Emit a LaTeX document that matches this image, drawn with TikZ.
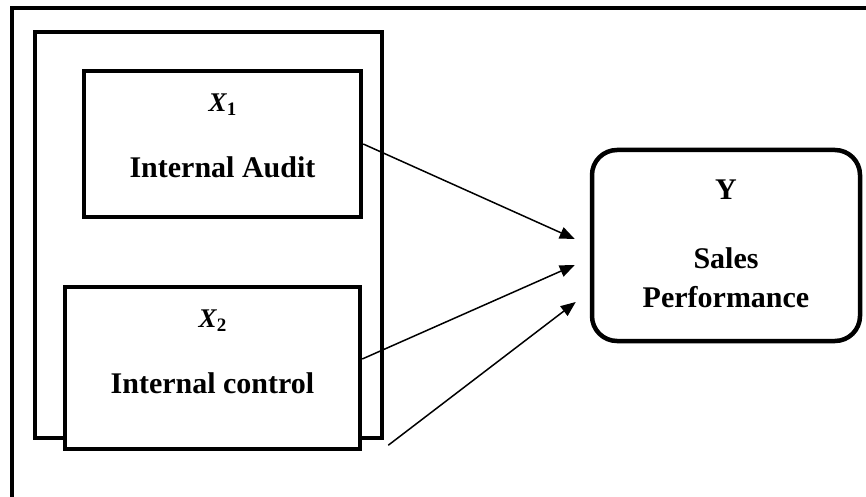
\documentclass[tikz,border=0pt]{standalone}
\usepackage{fontspec}
\setmainfont{Liberation Serif}
\usepackage{tikz}
\usetikzlibrary{arrows.meta,positioning}

% variable symbol: bold italic letter with a lowered index
\newcommand{\varsym}[2]{{\fontsize{27}{27}\selectfont\itshape #1}\raisebox{-4pt}{\fontsize{19}{19}\selectfont #2}}
% invisible depth below the last line, lifts the text in its box
\newcommand{\lift}[1]{\rule[-#1]{0pt}{#1}}

\begin{document}
\begin{tikzpicture}[
  x=1pt,y=-1pt,
  var/.style={draw,line width=4.5pt,align=center,inner sep=0pt,
    font=\fontsize{30}{39}\selectfont\bfseries},
  a/.style={-{Triangle[length=15pt,width=12pt]},line width=1.5pt}
]
\useasboundingbox (0,0) rectangle (866,497);
% frame round the whole model
\draw[line width=4pt] (12,497) -- (12,8) -- (866,8);

\node[draw,line width=4.5pt,minimum width=347pt,minimum height=406pt] (grp) at (208.5,235) {};
\node[var,minimum width=277pt,minimum height=146pt] (x1) at (222.5,144)
  {\varsym{X}{1}\\[27pt]Internal Audit\lift{16pt}};
\node[var,fill=white,minimum width=295pt,minimum height=162pt] (x2) at (212.5,368)
  {\varsym{X}{2}\\[27pt]Internal control\lift{32pt}};
\node[var,rounded corners=25pt,minimum width=268pt,minimum height=191pt] (y) at (726,245.5)
  {Y\\[30pt]Sales\\Performance\lift{4pt}};

\draw[a] (x1.east) -- ([xshift=-15pt,yshift=6.5pt]y.west);
\draw[a] ([yshift=9pt]x2.east) -- ([xshift=-15pt,yshift=-19.5pt]y.west);
\draw[a] ([xshift=4pt,yshift=-5pt]grp.south east) -- ([xshift=-14pt,yshift=-56.5pt]y.west);
\end{tikzpicture}
\end{document}
